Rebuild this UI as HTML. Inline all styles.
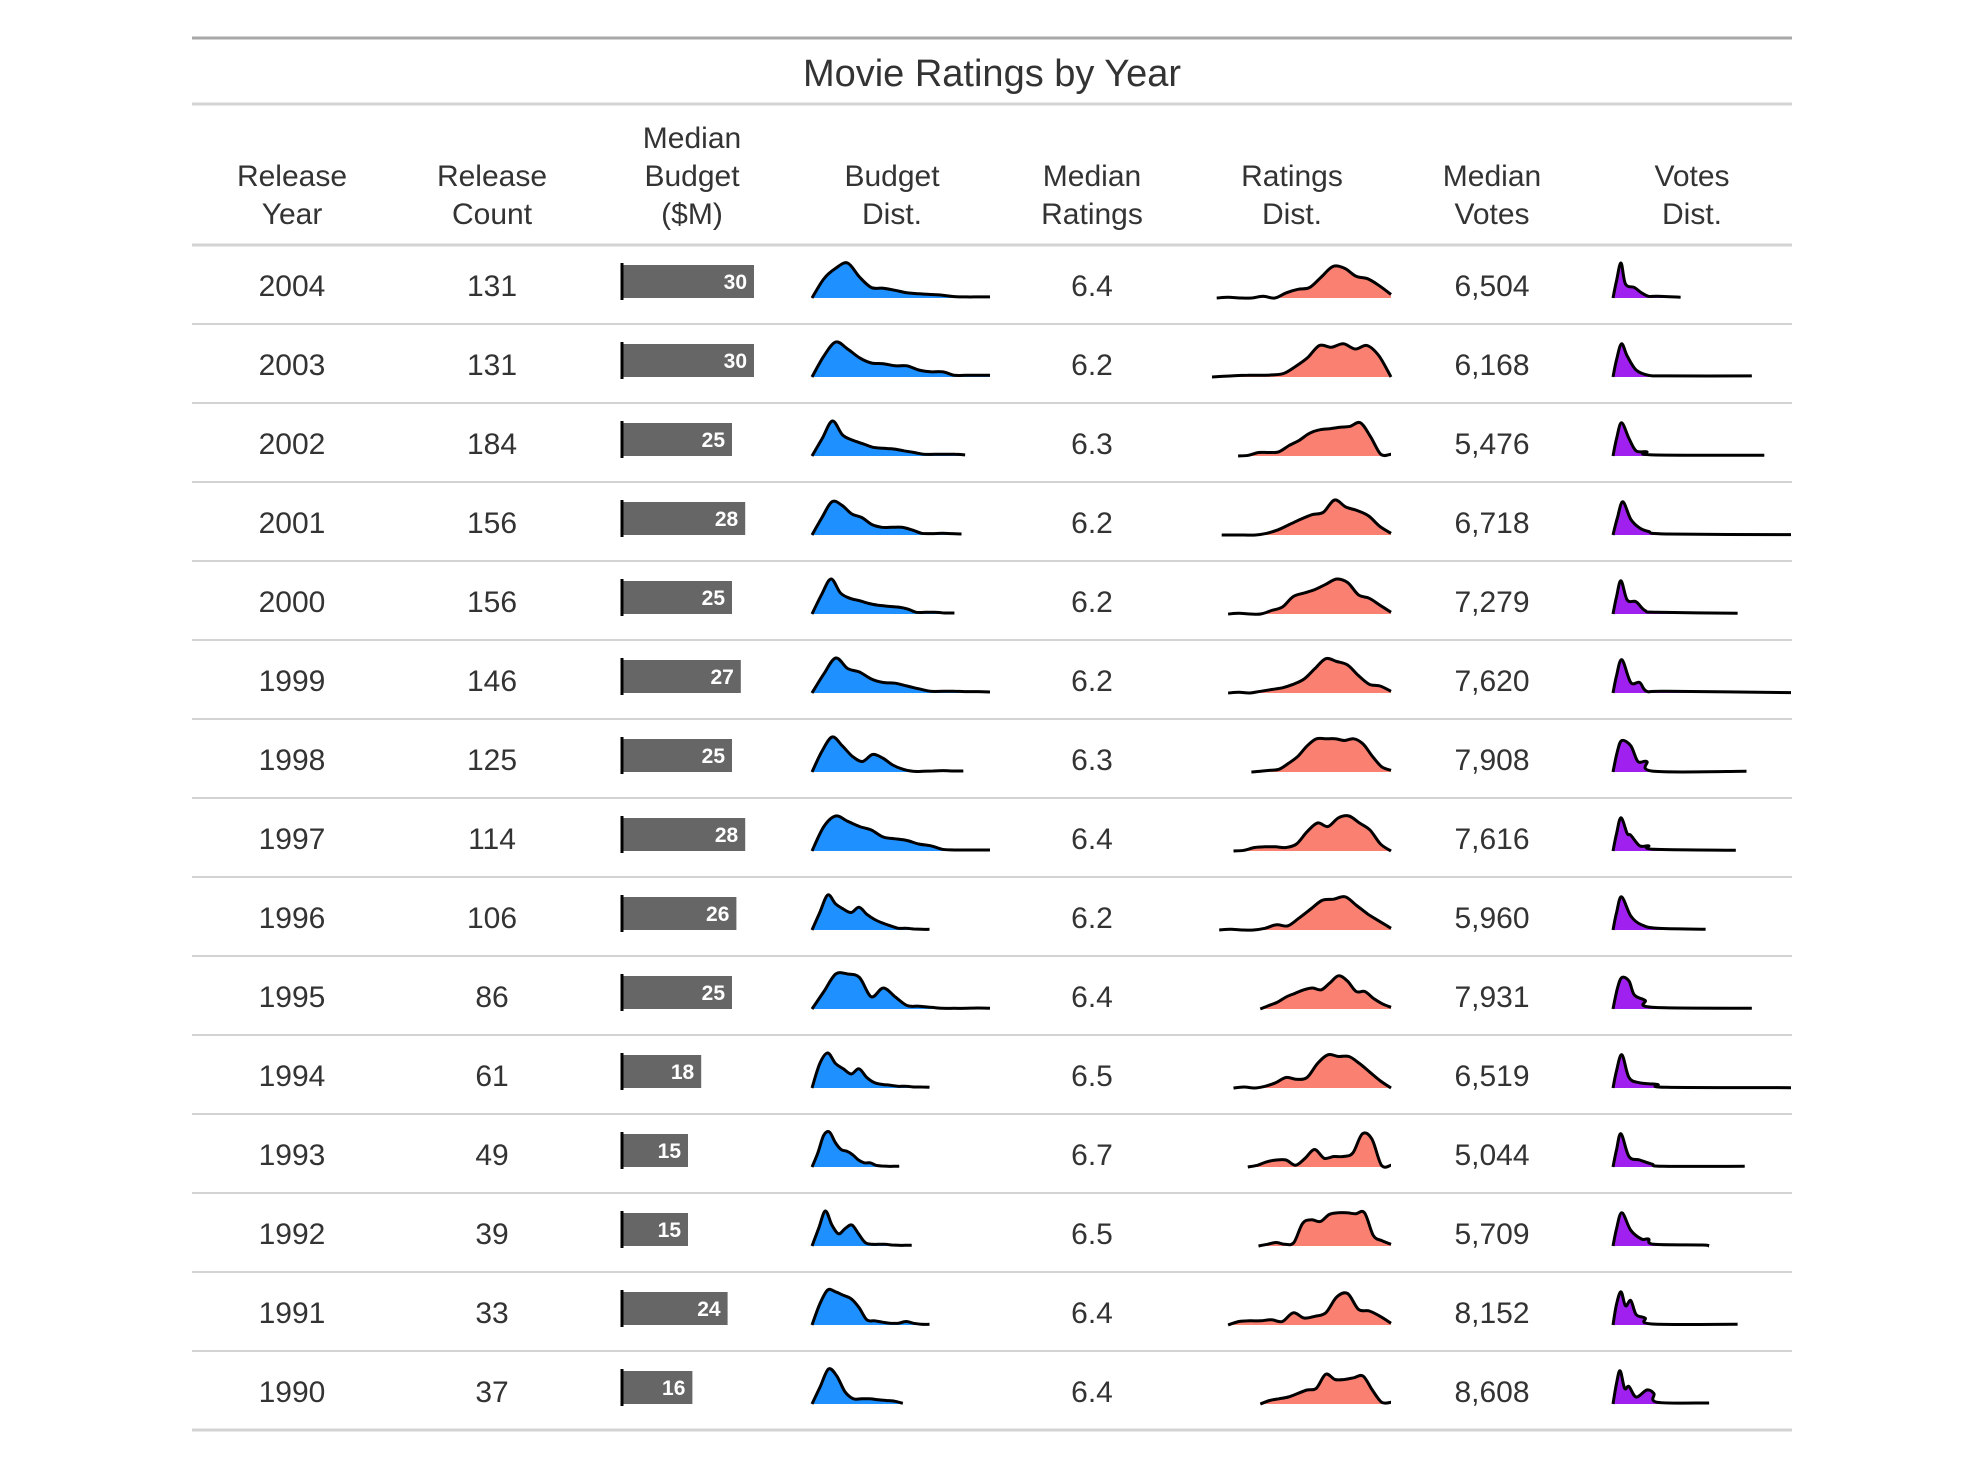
<!DOCTYPE html>
<html><head><meta charset="utf-8"><style>
html,body{margin:0;padding:0;background:#fff;}
svg text{font-family:"Liberation Sans",sans-serif;fill:#333;}
</style></head><body>
<svg id="chart" width="1984" height="1466" viewBox="0 0 1984 1466" xmlns="http://www.w3.org/2000/svg">
<rect width="1984" height="1466" fill="#fff"/>
<line x1="192" x2="1792" y1="38" y2="38" stroke="#a8a8a8" stroke-width="3"/>
<text x="992" y="86" font-size="38" text-anchor="middle">Movie Ratings by Year</text>
<line x1="192" x2="1792" y1="104" y2="104" stroke="#d3d3d3" stroke-width="3"/>
<g id="headers"></g>
<line x1="192" x2="1792" y1="245" y2="245" stroke="#d3d3d3" stroke-width="3"/>
<g id="rows"></g>
<line x1="192" x2="1792" y1="1430" y2="1430" stroke="#d3d3d3" stroke-width="3"/>
</svg>
<script>
const years = [2004,2003,2002,2001,2000,1999,1998,1997,1996,1995,1994,1993,1992,1991,1990];
const counts = [131,131,184,156,156,146,125,114,106,86,61,49,39,33,37];
const budgets = [30,30,25,28,25,27,25,28,26,25,18,15,15,24,16];
const ratings = ["6.4","6.2","6.3","6.2","6.2","6.2","6.3","6.4","6.2","6.4","6.5","6.7","6.5","6.4","6.4"];
const votes = ["6,504","6,168","5,476","6,718","7,279","7,620","7,908","7,616","5,960","7,931","6,519","5,044","5,709","8,152","8,608"];
const budgetEnds = [1,1,0.86,0.84,0.80,1,0.85,1,0.66,1,0.66,0.49,0.56,0.66,0.51];
const budgetDens = [
[0,0.55,0.85,1.0,0.6,0.3,0.28,0.22,0.15,0.12,0.1,0.08,0.04,0.03,0.03,0.03],
[0,0.6,1.0,0.8,0.55,0.4,0.38,0.32,0.32,0.2,0.15,0.15,0.05,0.05,0.05,0.05],
[0,0.5,1.0,0.6,0.45,0.35,0.25,0.22,0.2,0.15,0.1,0.05,0.05,0.05,0.05,0.03],
[0,0.5,0.95,0.85,0.6,0.5,0.3,0.22,0.22,0.22,0.15,0.05,0.04,0.05,0.04,0.03],
[0,0.55,1.0,0.6,0.45,0.38,0.3,0.25,0.22,0.2,0.15,0.05,0.05,0.05,0.03,0.03],
[0,0.55,1.0,0.7,0.6,0.4,0.3,0.28,0.2,0.12,0.05,0.05,0.05,0.04,0.04,0.03],
[0,0.6,1.0,0.75,0.45,0.3,0.5,0.4,0.2,0.08,0.02,0.02,0.03,0.04,0.03,0.03],
[0,0.7,1.0,0.85,0.7,0.6,0.4,0.35,0.3,0.2,0.15,0.05,0.03,0.03,0.03,0.03],
[0,0.5,1.0,0.75,0.6,0.5,0.65,0.45,0.3,0.2,0.12,0.05,0.05,0.03,0.02,0.02],
[0,0.5,1.0,1.0,0.9,0.35,0.6,0.35,0.1,0.08,0.05,0.02,0.02,0.02,0.03,0.02],
[0,0.7,1.0,0.7,0.55,0.4,0.55,0.3,0.15,0.1,0.08,0.05,0.05,0.03,0.03,0.02],
[0,0.4,0.9,1.0,0.7,0.5,0.45,0.35,0.2,0.12,0.12,0.05,0.03,0.02,0.02,0.02],
[0,0.5,1.0,0.6,0.35,0.5,0.6,0.35,0.1,0.05,0.05,0.05,0.03,0.02,0.02,0.02],
[0,0.6,1.0,0.95,0.85,0.75,0.5,0.15,0.12,0.08,0.05,0.05,0.1,0.05,0.02,0.02],
[0,0.5,1.0,0.8,0.35,0.15,0.15,0.15,0.12,0.1,0.08,0.02]
];
const ratingStarts = [0.026,0,0.146,0.054,0.09,0.09,0.22,0.12,0.04,0.27,0.12,0.2,0.26,0.09,0.27];
const ratingDens = [
[0,0.02,0.0,0.0,0.05,0.0,0.15,0.25,0.3,0.6,0.9,0.85,0.62,0.55,0.35,0.1],
[0,0.02,0.04,0.05,0.05,0.06,0.1,0.3,0.55,0.9,0.85,0.95,0.8,0.9,0.6,0.0],
[0,0.02,0.1,0.1,0.12,0.3,0.45,0.65,0.75,0.78,0.82,0.85,0.95,0.55,0.05,0.05],
[0,0,0,0,0.05,0.15,0.3,0.45,0.58,0.65,1.0,0.8,0.7,0.55,0.25,0.05],
[0,0.02,0.0,0.0,0.1,0.2,0.5,0.6,0.7,0.85,1.0,0.9,0.55,0.45,0.25,0.05],
[0,0.02,0.0,0.05,0.1,0.15,0.25,0.4,0.7,0.98,0.9,0.8,0.5,0.25,0.2,0.05],
[0,0.02,0.05,0.08,0.25,0.45,0.75,0.95,0.95,0.95,0.9,0.95,0.8,0.45,0.15,0.05],
[0,0.02,0.1,0.12,0.12,0.1,0.2,0.55,0.8,0.7,0.95,1.0,0.8,0.6,0.2,0.0],
[0,0.02,0,0.0,0.05,0.15,0.12,0.35,0.6,0.85,0.88,0.95,0.7,0.45,0.25,0.05],
[0,0.1,0.2,0.35,0.45,0.55,0.6,0.55,0.75,0.95,0.8,0.5,0.5,0.3,0.15,0.05],
[0,0.03,0,0.05,0.15,0.3,0.25,0.3,0.7,0.95,0.9,0.9,0.7,0.45,0.2,0.0],
[0,0.05,0.15,0.2,0.2,0.05,0.25,0.5,0.25,0.3,0.3,0.4,0.95,0.8,0.05,0.05],
[0,0.05,0.1,0.05,0.1,0.65,0.75,0.7,0.9,0.95,0.95,0.92,0.95,0.3,0.15,0.05],
[0,0.1,0.12,0.12,0.15,0.1,0.35,0.2,0.25,0.35,0.8,0.9,0.45,0.4,0.25,0.05],
[0,0.1,0.15,0.2,0.3,0.4,0.45,0.85,0.7,0.7,0.75,0.8,0.4,0.05,0.05]
];
const voteDens = [
[[0,0],[0.02,0.5],[0.045,1],[0.07,0.4],[0.12,0.3],[0.16,0.15],[0.2,0.05],[0.25,0.05],[0.38,0.02]],
[[0,0],[0.02,0.5],[0.048,0.95],[0.08,0.6],[0.13,0.2],[0.2,0.05],[0.3,0.03],[0.78,0.03]],
[[0,0],[0.02,0.5],[0.048,0.95],[0.09,0.5],[0.13,0.15],[0.19,0.12],[0.22,0.03],[0.85,0.02]],
[[0,0],[0.025,0.5],[0.055,0.95],[0.1,0.45],[0.15,0.2],[0.2,0.1],[0.3,0.03],[1,0.01]],
[[0,0],[0.02,0.5],[0.045,0.95],[0.08,0.4],[0.13,0.35],[0.18,0.1],[0.25,0.05],[0.7,0.02]],
[[0,0],[0.02,0.5],[0.05,0.95],[0.1,0.3],[0.15,0.3],[0.19,0.05],[0.3,0.05],[1,0.01]],
[[0,0],[0.025,0.6],[0.05,0.9],[0.1,0.75],[0.14,0.3],[0.19,0.3],[0.23,0.02],[0.75,0.02]],
[[0,0],[0.02,0.5],[0.045,0.95],[0.08,0.5],[0.1,0.45],[0.15,0.15],[0.2,0.15],[0.23,0.05],[0.69,0.02]],
[[0,0],[0.02,0.5],[0.048,0.95],[0.1,0.4],[0.16,0.15],[0.25,0.05],[0.52,0.02]],
[[0,0],[0.025,0.6],[0.05,0.9],[0.09,0.8],[0.12,0.4],[0.18,0.25],[0.22,0.05],[0.78,0.02]],
[[0,0],[0.02,0.5],[0.05,0.95],[0.09,0.3],[0.15,0.15],[0.25,0.1],[0.3,0.02],[1,0.01]],
[[0,0],[0.02,0.5],[0.045,0.95],[0.09,0.3],[0.15,0.2],[0.22,0.08],[0.28,0.02],[0.74,0.02]],
[[0,0],[0.02,0.5],[0.05,0.95],[0.1,0.45],[0.16,0.2],[0.2,0.2],[0.23,0.05],[0.5,0.03],[0.54,0.0]],
[[0,0],[0.02,0.6],[0.045,0.95],[0.07,0.55],[0.1,0.7],[0.13,0.3],[0.18,0.2],[0.22,0.03],[0.7,0.02]],
[[0,0],[0.02,0.6],[0.04,0.95],[0.065,0.45],[0.09,0.5],[0.13,0.2],[0.19,0.4],[0.23,0.3],[0.25,0.05],[0.54,0.03]]
];
const headerLines = [["Release","Year"],["Release","Count"],["Median","Budget","($M)"],["Budget","Dist."],["Median","Ratings"],["Ratings","Dist."],["Median","Votes"],["Votes","Dist."]];

const NS = "http://www.w3.org/2000/svg";
const colX = i => 192 + 200*i + 100;
const rowTop = i => 245 + 79*i;
const barX = v => 622 + v*4.4;
const AMP = 35;
function mk(tag, attrs, parent){ const e=document.createElementNS(NS,tag); for(const k in attrs) e.setAttribute(k,attrs[k]); parent.appendChild(e); return e; }
function smooth(pts){
  let d = "M"+pts[0][0].toFixed(1)+","+pts[0][1].toFixed(1);
  for(let i=0;i<pts.length-1;i++){
    const p0=pts[Math.max(0,i-1)],p1=pts[i],p2=pts[i+1],p3=pts[Math.min(pts.length-1,i+2)];
    const c1x=p1[0]+(p2[0]-p0[0])/6,c1y=p1[1]+(p2[1]-p0[1])/6;
    const c2x=p2[0]-(p3[0]-p1[0])/6,c2y=p2[1]-(p3[1]-p1[1])/6;
    d+=" C"+c1x.toFixed(1)+","+c1y.toFixed(1)+" "+c2x.toFixed(1)+","+c2y.toFixed(1)+" "+p2[0].toFixed(1)+","+p2[1].toFixed(1);
  }
  return d;
}
function density(g, pts, base, fill, name){
  const line = smooth(pts);
  const area = line+" L"+pts[pts.length-1][0].toFixed(1)+","+base+" L"+pts[0][0].toFixed(1)+","+base+" Z";
  const a = mk("path",{d:area,fill:fill,stroke:"none"},g);
  
  
  const l = mk("path",{d:line,fill:"none",stroke:"#000","stroke-width":3,"stroke-linejoin":"round"},g);
  
  
}
const hg = document.getElementById("headers");
headerLines.forEach((lines,c)=>{
  const n = lines.length;
  lines.forEach((t,k)=>{
    const y = 213 - (n-1-k)*38 + 11;
    const e = mk("text",{x:colX(c),y:y,"font-size":30,"text-anchor":"middle"},hg);
    e.textContent = t;
    
    
  });
});
const rg = document.getElementById("rows");
years.forEach((yr,i)=>{
  const top = rowTop(i);
  const g = mk("g",{},rg);
  
  
  if(i>0){ const s=mk("line",{x1:192,x2:1792,y1:top,y2:top,stroke:"#d3d3d3","stroke-width":2},g);
    
     }
  const ty = top+51;
  [[yr,0,'year-cell'],[counts[i],1,'count-cell'],[ratings[i],4,'rating-cell'],[votes[i],6,'votes-cell']].forEach(([v,c,nm])=>{
    const t = mk("text",{x:colX(c),y:ty,"font-size":30,"text-anchor":"middle"},g);
    t.textContent = v;
    
    
  });
  const b = mk("rect",{x:barX(0),y:top+20,width:barX(budgets[i])-barX(0),height:33,fill:"#666"},g);
  
  
  const ax = mk("line",{x1:622,x2:622,y1:top+18,y2:top+55,stroke:"#000","stroke-width":3},g);
  
  
  const bl = mk("text",{x:barX(budgets[i])-7,y:top+44,"font-size":21,"font-weight":"bold","text-anchor":"end",style:"fill:#fff"},g);
  bl.textContent = budgets[i];
  
  
  const base = top+53;
  // budget
  const bd = budgetDens[i], bx0=812, bw=178*budgetEnds[i];
  density(g, bd.map((h,k)=>[bx0+bw*k/(bd.length-1), base-h*AMP]), base, "#1e90ff", "budget-dist");
  // ratings
  const rd = ratingDens[i], rx0=1212+179*ratingStarts[i], rw=1391-rx0;
  density(g, rd.map((h,k)=>[rx0+rw*k/(rd.length-1), base-h*AMP]), base, "#fa8072", "ratings-dist");
  // votes
  density(g, voteDens[i].map(([t,h])=>[1613+178*t, base-h*AMP]), base, "#a020f0", "votes-dist");
});
</script>
</body></html>
